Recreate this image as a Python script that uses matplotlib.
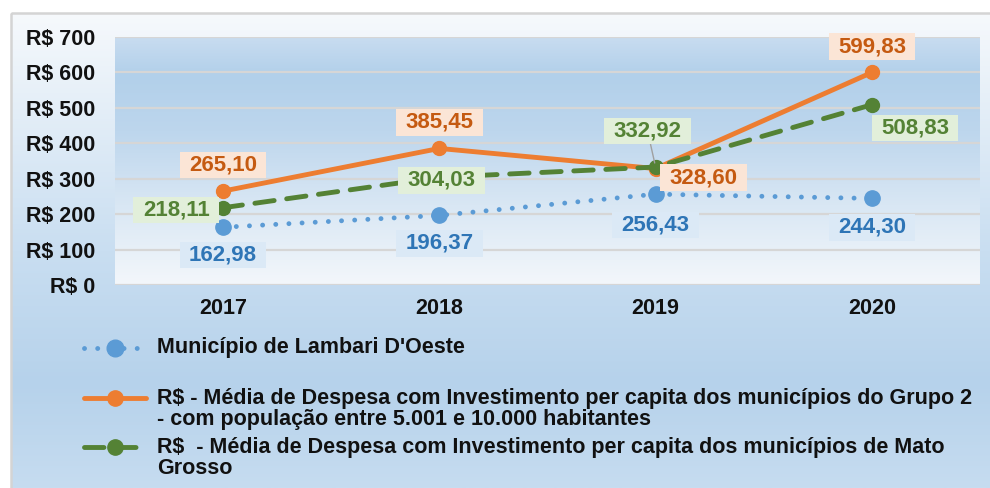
import numpy as np
import matplotlib
matplotlib.use("Agg")
import matplotlib.pyplot as plt
from matplotlib.colors import LinearSegmentedColormap
from matplotlib.lines import Line2D
from matplotlib.patches import Rectangle
from matplotlib.path import Path

# ---- data ----
years = ["2017", "2018", "2019", "2020"]
lambari = [162.98, 196.37, 256.43, 244.30]
grupo2 = [265.10, 385.45, 328.60, 599.83]
mato_grosso = [218.11, 304.03, 332.92, 508.83]
yticks = [0, 100, 200, 300, 400, 500, 600, 700]
ytick_labels = ["R$ 0", "R$ 100", "R$ 200", "R$ 300", "R$ 400", "R$ 500", "R$ 600", "R$ 700"]
legend_labels = [
    "Município de Lambari D'Oeste",
    "R$ - Média de Despesa com Investimento per capita dos municípios do Grupo 2\n"
    "- com população entre 5.001 e 10.000 habitantes",
    "R$  - Média de Despesa com Investimento per capita dos municípios de Mato\nGrosso",
]

plt.rcParams["font.family"] = ["Liberation Sans", "DejaVu Sans"]

W, H = 990, 488
fig = plt.figure(figsize=(W / 100, H / 100), dpi=100)
fig.patch.set_facecolor("white")

# background layer in pixel coordinates
bg = fig.add_axes([0, 0, 1, 1], zorder=-10)
bg.set_xlim(0, W)
bg.set_ylim(H, 0)
bg.axis("off")
outer_cmap = LinearSegmentedColormap.from_list(
    "outer", [(0, "#f6f9fc"), (0.5, "#c9def1"), (0.78, "#b6d2eb"), (1, "#c6dcf0")])
grad = np.linspace(0, 1, 256).reshape(-1, 1)
bg.imshow(grad, cmap=outer_cmap, extent=(11, W, H, 13), aspect="auto", interpolation="bilinear")
bg.add_patch(Rectangle((11, 13), W, H, fill=False, ec="#d4d4d4", lw=1.8))

# main plot area
ax = fig.add_axes([115 / W, (H - 285) / H, 865 / W, 248 / H])
ax.set_facecolor("none")
ax.set_xlim(-0.5, 3.5)
ax.set_ylim(0, 700)
plot_cmap = LinearSegmentedColormap.from_list(
    "plot", [(0, "#c8dcf0"), (0.15, "#b2d0ea"), (0.38, "#bdd6ed"), (0.68, "#d9e7f4"), (1, "#f3f7fb")])
ax.imshow(grad, cmap=plot_cmap, extent=(-0.5, 3.5, 0, 700), aspect="auto",
          interpolation="bilinear", zorder=0)
for s in ax.spines.values():
    s.set_visible(False)
ax.set_yticks(yticks)
ax.set_yticklabels(ytick_labels)
x = np.arange(len(years))
ax.set_xticks(x)
ax.set_xticklabels(years)
ax.grid(axis="y", color="#d6d6d6", lw=1.6, zorder=1)
ax.tick_params(axis="y", length=0, pad=14, labelsize=15.5, labelcolor="#111111")
ax.tick_params(axis="x", length=0, pad=9, labelsize=15.5, labelcolor="#111111")
for lbl in ax.get_xticklabels() + ax.get_yticklabels():
    lbl.set_fontweight("bold")

BLUE, ORANGE, GREEN = "#5b9bd5", "#ed7d31", "#548235"
dotted = (0, (0.01, 2.7))
dashed = (0, (4, 2.6))

ax.plot(x, lambari, color=BLUE, lw=3.5, ls=dotted, dash_capstyle="round",
        marker="o", ms=11, zorder=3)
ax.plot(x, grupo2, color=ORANGE, lw=3.5, solid_capstyle="round",
        marker="o", ms=10, zorder=4)
ax.plot(x, mato_grosso, color=GREEN, lw=3.5, ls=dashed, dash_capstyle="round",
        marker="o", ms=10, zorder=5)


def wide_box(x0, y0, width, height, mutation_size):
    """Rectangle with more horizontal than vertical padding."""
    px, py = 0.42 * mutation_size, 0.12 * mutation_size
    x0, y0 = x0 - px, y0 - py
    x1, y1 = x0 + width + 2 * px, y0 + height + 2 * py
    return Path([(x0, y0), (x1, y0), (x1, y1), (x0, y1), (x0, y0)], closed=True)


def fmt(v):
    return f"{v:.2f}".replace(".", ",")


# data labels
label_styles = [
    (lambari, "#2e75b6", "#dbe9f6",
     [(0, -20.2), (0, -20.2), (0, -22.3), (0, -20.9)]),
    (grupo2, "#c55a11", "#fbe5d6",
     [(0, 18.7), (0, 18.7), (34.6, -6.5), (0, 18.7)]),
    (mato_grosso, "#548235", "#e2efda",
     [(-33.8, -1.4), (1.4, -2.2), (-5.8, 25.9), (31, -16.6)]),
]
for values, tcolor, fcolor, offsets in label_styles:
    for i, (v, off) in enumerate(zip(values, offsets)):
        kw = {}
        if values is mato_grosso and i == 2:
            kw["arrowprops"] = dict(arrowstyle="-", color="#a0a0a0", lw=1,
                                    shrinkA=0, shrinkB=3)
        ax.annotate(fmt(v), (i, v), xytext=off, textcoords="offset points",
                    ha="center", va="center", fontsize=16, fontweight="bold",
                    color=tcolor, zorder=6,
                    bbox=dict(boxstyle=wide_box, fc=fcolor, ec="none"),
                    **kw)

# legend drawn in pixel coordinates
leg_rows = [348, 398, 447]
text_y = [348, 409, 457.5]
styles = [(BLUE, dotted, 12), (ORANGE, "-", 11), (GREEN, dashed, 11)]
for (c, ls, ms), ry, ty, txt in zip(styles, leg_rows, text_y, legend_labels):
    bg.add_line(Line2D([84, 146], [ry, ry], color=c, lw=3.5, ls=ls,
                       dash_capstyle="round", solid_capstyle="round"))
    bg.add_line(Line2D([115], [ry], color=c, marker="o", ms=ms, ls="none"))
    bg.text(157, ty, txt, fontsize=15.5, fontweight="bold", color="#111111",
            ha="left", va="center", linespacing=1.0)

fig.savefig("out.png", dpi=100)
